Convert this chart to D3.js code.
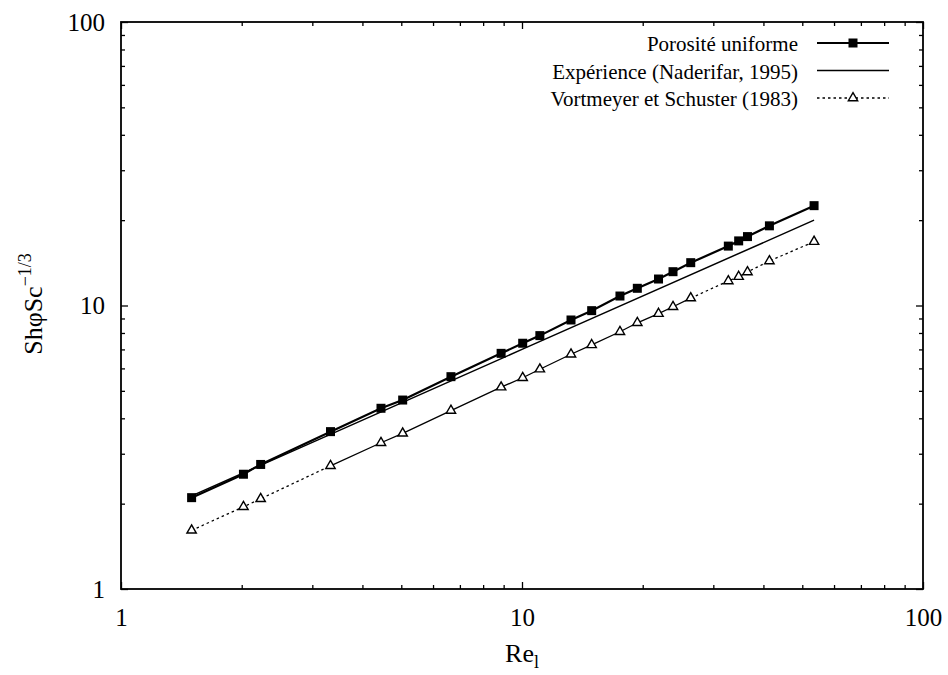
<!DOCTYPE html>
<html>
<head>
<meta charset="utf-8">
<script src="https://cdn.jsdelivr.net/npm/d3@7"></script>
<style>
  html, body { margin: 0; padding: 0; background: #fff; }
  svg { display: block; }
</style>
</head>
<body>
<svg id="chart" width="948" height="675"></svg>
<script>
// Reynolds numbers shared by the two computed/correlated series
const reValues = [1.5, 2.02, 2.23, 3.33, 4.45, 5.04, 6.65, 8.87, 10.04, 11.08, 13.25,
                  14.92, 17.55, 19.39, 21.9, 23.8, 26.35, 32.7, 34.7, 36.5, 41.4, 53.5];
// Sh·φ·Sc^-1/3, uniform porosity model
const uniformValues = [2.10, 2.54, 2.75, 3.59, 4.34, 4.64, 5.61, 6.78, 7.36, 7.83, 8.89,
                       9.59, 10.80, 11.50, 12.4, 13.16, 14.16, 16.2, 16.9, 17.5, 19.1, 22.5];
// Vortmeyer & Schuster (1983)
const vortmeyerValues = [1.61, 1.95, 2.08, 2.72, 3.28, 3.54, 4.26, 5.15, 5.56, 5.96, 6.73,
                         7.26, 8.08, 8.69, 9.36, 9.90, 10.62, 12.2, 12.64, 13.13, 14.35, 16.8];
// Experimental correlation (Naderifar, 1995)
const experienceRe = [1.5, 10, 53.5];
const experienceValues = [2.13, 7.0, 20.0];

const seriesNames = ["Porosité uniforme", "Expérience (Naderifar, 1995)", "Vortmeyer et Schuster (1983)"];
const majorTicks = [1, 10, 100];
const minorTicks = [2, 3, 4, 5, 6, 7, 8, 9, 20, 30, 40, 50, 60, 70, 80, 90];

const FONT = "'Liberation Serif'";
const svg = d3.select("#chart");
const plotLeft = 121, plotRight = 923, plotTop = 22, plotBottom = 589;

const x = d3.scaleLog().domain([1, 100]).range([plotLeft, plotRight]);
const y = d3.scaleLog().domain([1, 100]).range([plotBottom, plotTop]);

// Axes: labelled major ticks, inward minor ticks on all four sides
function styleAxis(g) {
  g.select(".domain").remove();
  g.selectAll("line").attr("stroke", "#000").attr("stroke-width", 1.3);
  g.selectAll("text").attr("fill", "#000")
    .style("font-family", FONT).style("font-size", "25px");
}
const fmt = d3.format("d");

svg.append("g").attr("transform", `translate(0,${plotBottom})`)
  .call(d3.axisBottom(x).tickValues(majorTicks).tickFormat(fmt).tickSize(-7).tickPadding(19))
  .call(styleAxis);
svg.append("g").attr("transform", `translate(0,${plotBottom})`)
  .call(d3.axisBottom(x).tickValues(minorTicks).tickFormat("").tickSize(-4))
  .call(styleAxis);
svg.append("g").attr("transform", `translate(0,${plotTop})`)
  .call(d3.axisTop(x).tickValues(majorTicks).tickFormat("").tickSize(-7))
  .call(styleAxis);
svg.append("g").attr("transform", `translate(0,${plotTop})`)
  .call(d3.axisTop(x).tickValues(minorTicks).tickFormat("").tickSize(-4))
  .call(styleAxis);

svg.append("g").attr("transform", `translate(${plotLeft},0)`)
  .call(d3.axisLeft(y).tickValues(majorTicks).tickFormat(fmt).tickSize(-7).tickPadding(16))
  .call(styleAxis);
svg.append("g").attr("transform", `translate(${plotLeft},0)`)
  .call(d3.axisLeft(y).tickValues(minorTicks).tickFormat("").tickSize(-4))
  .call(styleAxis);
svg.append("g").attr("transform", `translate(${plotRight},0)`)
  .call(d3.axisRight(y).tickValues(majorTicks).tickFormat("").tickSize(-7))
  .call(styleAxis);
svg.append("g").attr("transform", `translate(${plotRight},0)`)
  .call(d3.axisRight(y).tickValues(minorTicks).tickFormat("").tickSize(-4))
  .call(styleAxis);

// Plot frame
svg.append("rect")
  .attr("x", plotLeft).attr("y", plotTop)
  .attr("width", plotRight - plotLeft).attr("height", plotBottom - plotTop)
  .attr("fill", "none").attr("stroke", "#000").attr("stroke-width", 1.8);

// Axis titles
svg.append("text")
  .attr("x", (plotLeft + plotRight) / 2).attr("y", 662)
  .attr("text-anchor", "middle")
  .style("font-family", FONT).style("font-size", "26px")
  .html('Re<tspan style="font-size:18px" dy="6">l</tspan>');

svg.append("text")
  .attr("transform", "translate(42,304) rotate(-90)")
  .attr("text-anchor", "middle")
  .style("font-family", FONT).style("font-size", "26px")
  .html('ShφSc<tspan style="font-size:18px" dy="-11">−1/3</tspan>');

// Series
const line = d3.line().x(d => x(d[0])).y(d => y(d[1]));
const uniformPts = reValues.map((r, i) => [r, uniformValues[i]]);
const vortPts = reValues.map((r, i) => [r, vortmeyerValues[i]]);
const expPts = experienceRe.map((r, i) => [r, experienceValues[i]]);

const plot = svg.append("g");

plot.append("path").datum(expPts).attr("d", line)
  .attr("fill", "none").attr("stroke", "#000").attr("stroke-width", 1.5);

plot.append("path").datum(uniformPts).attr("d", line)
  .attr("fill", "none").attr("stroke", "#000").attr("stroke-width", 2.2);

// Vortmeyer curve: dotted at both ends, printed solid through the middle stretch
const solidStart = 3, solidEnd = 16;
const vortSegments = [
  { pts: vortPts.slice(0, solidStart + 1), dash: "2.5,3" },
  { pts: vortPts.slice(solidStart, solidEnd + 1), dash: null },
  { pts: vortPts.slice(solidEnd), dash: "2.5,3" }
];
vortSegments.forEach(s => {
  plot.append("path").datum(s.pts).attr("d", line)
    .attr("fill", "none").attr("stroke", "#000").attr("stroke-width", 1.3)
    .attr("stroke-dasharray", s.dash);
});

const sq = 9;
plot.selectAll(".sq").data(uniformPts).join("rect")
  .attr("x", d => x(d[0]) - sq / 2).attr("y", d => y(d[1]) - sq / 2)
  .attr("width", sq).attr("height", sq).attr("fill", "#000");

const tri = d3.symbol().type(d3.symbolTriangle).size(38);
plot.selectAll(".tri").data(vortPts).join("path")
  .attr("transform", d => `translate(${x(d[0])},${y(d[1])})`)
  .attr("d", tri).attr("fill", "#fff").attr("stroke", "#000").attr("stroke-width", 1.4);

// Legend
const legendTextX = 798, sampleX0 = 817, sampleX1 = 889, rowY0 = 43, rowGap = 27.5;
const legend = svg.append("g");
seriesNames.forEach((name, i) => {
  const yy = rowY0 + i * rowGap;
  legend.append("text").attr("x", legendTextX).attr("y", yy + 8)
    .attr("text-anchor", "end")
    .style("font-family", FONT).style("font-size", "21px").text(name);
  const ln = legend.append("line")
    .attr("x1", sampleX0).attr("x2", sampleX1).attr("y1", yy).attr("y2", yy)
    .attr("stroke", "#000");
  const cx = (sampleX0 + sampleX1) / 2;
  if (i === 0) {
    ln.attr("stroke-width", 2);
    legend.append("rect").attr("x", cx - sq / 2).attr("y", yy - sq / 2)
      .attr("width", sq).attr("height", sq).attr("fill", "#000");
  } else if (i === 1) {
    ln.attr("stroke-width", 1.5);
  } else {
    ln.attr("stroke-width", 1.3).attr("stroke-dasharray", "2.5,3");
    legend.append("path").attr("transform", `translate(${cx},${yy})`)
      .attr("d", tri).attr("fill", "#fff").attr("stroke", "#000").attr("stroke-width", 1.4);
  }
});
</script>
</body>
</html>
